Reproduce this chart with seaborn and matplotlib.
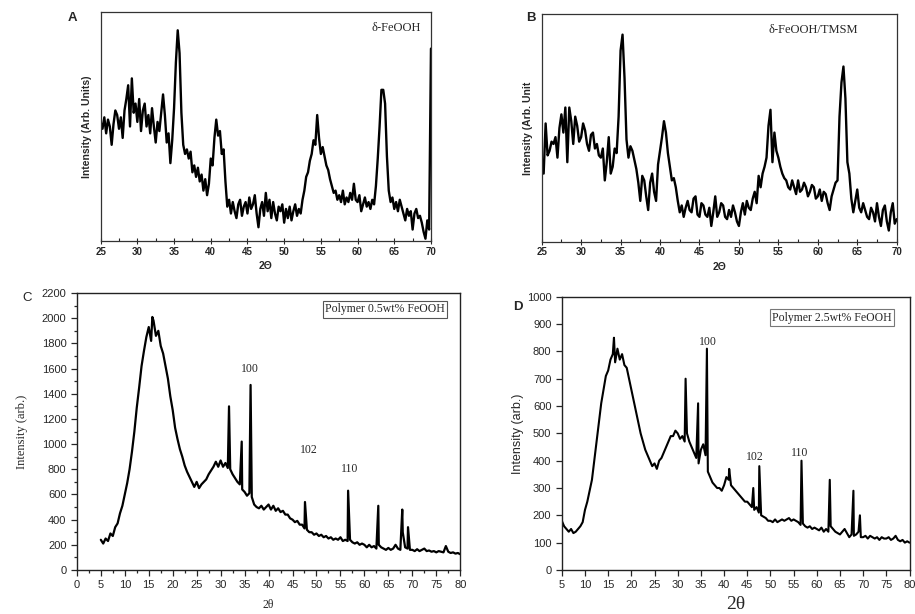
import matplotlib
matplotlib.use("Agg")
import matplotlib.pyplot as plt
import numpy as np
import pandas as pd
import seaborn as sns
from matplotlib.ticker import MultipleLocator

# ---- panel A: delta-FeOOH, 25..70 deg, step 0.25 (arb. units 0-100)
a_int = [
    52, 49, 54, 47, 53, 50, 42, 51, 57, 55, 49, 54, 45, 57, 62, 68, 50, 71, 56, 60,
    52, 62, 48, 57, 60, 50, 55, 47, 58, 50, 43, 52, 48, 56, 64, 55, 43, 47, 34, 44,
    58, 78, 92, 82, 56, 42, 38, 40, 36, 39, 30, 33, 28, 32, 26, 29, 22, 27, 20, 25,
    36, 33, 45, 53, 46, 48, 38, 40, 26, 15, 18, 12, 17, 13, 10, 16, 18, 11, 15, 17,
    12, 19, 14, 16, 20, 12, 6, 14, 17, 11, 21, 13, 18, 10, 17, 12, 9, 15, 13, 16,
    8, 14, 10, 15, 9, 13, 16, 11, 14, 12, 18, 22, 28, 30, 35, 38, 44, 42, 55, 45,
    38, 41, 37, 33, 31, 27, 24, 21, 22, 18, 20, 17, 22, 16, 19, 17, 21, 18, 25, 18,
    17, 20, 13, 16, 19, 15, 17, 14, 18, 16, 24, 36, 50, 66, 66, 60, 37, 22, 17, 19,
    14, 17, 13, 18, 15, 12, 9, 14, 11, 13, 5, 12, 14, 10, 11, 8, 4, 1, 9, 5,
    84,
]

# ---- panel B: delta-FeOOH/TMSM, 25..70 deg, step 0.25
b_int = [
    35, 30, 52, 38, 40, 44, 43, 46, 37, 50, 56, 48, 59, 35, 59, 53, 43, 55, 51, 44,
    46, 52, 49, 43, 40, 47, 48, 41, 43, 38, 37, 41, 27, 35, 46, 30, 33, 41, 39, 55,
    84, 91, 72, 45, 37, 42, 40, 36, 32, 26, 18, 29, 27, 20, 14, 26, 30, 22, 18, 34,
    40, 46, 53, 48, 39, 33, 27, 28, 24, 18, 13, 16, 11, 15, 18, 14, 13, 19, 20, 12,
    11, 17, 16, 12, 11, 15, 7, 13, 20, 11, 13, 17, 16, 11, 10, 14, 11, 16, 13, 9,
    7, 13, 17, 12, 18, 15, 14, 19, 22, 17, 29, 24, 30, 33, 37, 51, 58, 35, 48, 40,
    37, 33, 30, 28, 27, 24, 23, 27, 24, 21, 27, 22, 23, 26, 24, 20, 22, 25, 24, 19,
    20, 23, 18, 22, 21, 17, 14, 20, 23, 26, 27, 55, 70, 77, 63, 35, 30, 19, 13, 18,
    23, 15, 13, 17, 14, 11, 10, 15, 13, 9, 17, 11, 7, 14, 16, 9, 5, 13, 17, 8,
    10,
]

# ---- panel C: polymer 0.5 wt% FeOOH, 5..80 deg, step 0.5
c_int = [
    240, 210, 250, 230, 290, 270, 340, 370, 450, 510,
    600, 690, 800, 940, 1100, 1290, 1450, 1620, 1740, 1850,
    1930, 1820, 1980, 1860, 1900, 1780, 1720, 1620, 1520, 1380,
    1270, 1130, 1040, 960, 900, 830, 780, 740, 700, 660,
    700, 650, 680, 700, 720, 760, 790, 820, 860, 820,
    870, 820, 850, 810, 800, 760, 730, 700, 680, 640,
    620, 590, 610, 580, 520, 500, 490, 510, 480, 500,
    520, 480, 510, 470, 490, 460, 470, 440, 440, 410,
    400, 380, 390, 360, 360, 330, 320, 300, 300, 280,
    290, 270, 280, 260, 270, 250, 260, 240, 250, 240,
    260, 230, 240, 230, 240, 220, 210, 220, 200, 210,
    200, 180, 200, 180, 190, 170, 200, 180, 170, 160,
    175, 160, 170, 200, 170, 160, 300, 180, 170, 160,
    160, 150, 165, 150, 160, 170, 150, 155, 145, 150,
    140, 150, 145, 140, 190, 145, 135, 140, 130, 135,
    125,
]
c_peak_x = [15.75, 31.75, 34.4, 36.25, 47.6, 56.6, 62.9, 67.9, 69.1]
c_peak_y = [2010, 1300, 1020, 1470, 540, 630, 510, 480, 340]

# ---- panel D: polymer 2.5 wt% FeOOH, 5..80 deg, step 0.5
d_int = [
    180, 160, 150, 140, 150, 135, 140, 150, 160, 175,
    220, 250, 290, 330, 400, 470, 540, 610, 660, 710,
    730, 770, 790, 760, 810, 770, 790, 750, 740, 700,
    660, 620, 580, 540, 500, 470, 440, 420, 400, 380,
    390, 370, 400, 410, 430, 450, 470, 490, 490, 510,
    500, 480, 490, 470, 500, 470, 450, 430, 410, 390,
    440, 460, 420, 360, 340, 320, 310, 300, 300, 290,
    310, 340, 330, 310, 300, 290, 280, 270, 260, 250,
    250, 240, 230, 220, 230, 210, 200, 195, 190, 180,
    180, 175, 185, 175, 180, 185, 180, 185, 190, 180,
    185, 180, 175, 165, 170, 160, 155, 160, 150, 155,
    150, 145, 155, 140, 150, 140, 160, 150, 140, 135,
    130, 140, 150, 135, 120, 130, 125, 130, 140, 120,
    120, 125, 115, 125, 120, 115, 120, 110, 120, 115,
    115, 120, 110, 115, 125, 110, 105, 110, 100, 105,
    100,
]
d_peak_x = [16.25, 31.7, 34.4, 36.3, 41.1, 46.3, 47.6, 56.7, 62.8, 67.9, 69.3]
d_peak_y = [850, 700, 610, 810, 370, 300, 380, 400, 330, 290, 200]

c_labels = [("100", 36.2, 1600), ("102", 48.3, 950), ("110", 57.0, 800)]
d_labels = [("100", 36.6, 835), ("102", 46.6, 415), ("110", 56.3, 428)]


def make_df(start, step, values, px=None, py=None):
    x = start + step * np.arange(len(values))
    df = pd.DataFrame({"two_theta": x, "intensity": values})
    if px is not None:
        df = pd.concat([df, pd.DataFrame({"two_theta": px, "intensity": py})])
    return df.sort_values("two_theta")


sns.set_style("ticks")
plt.rcParams["font.family"] = ["Liberation Sans", "DejaVu Sans"]
serif = ["Liberation Serif", "DejaVu Serif"]

fig = plt.figure(figsize=(9.15, 6.14), dpi=100)
ax_a = fig.add_axes([0.110, 0.6075, 0.361, 0.373])
ax_b = fig.add_axes([0.592, 0.606, 0.388, 0.371])
ax_c = fig.add_axes([0.084, 0.0717, 0.419, 0.451])
ax_d = fig.add_axes([0.614, 0.0717, 0.380, 0.445])

# top panels
for ax, vals, title, ylab, tx in [
    (ax_a, a_int, "δ-FeOOH", "Intensity (Arb. Units)", 0.97),
    (ax_b, b_int, "δ-FeOOH/TMSM", "Intensity (Arb. Unit", 0.89),
]:
    df = make_df(25.0, 0.25, vals)
    sns.lineplot(data=df, x="two_theta", y="intensity", ax=ax, color="black",
                 linewidth=1.7, sort=False)
    ax.set_xlim(25, 70)
    ax.set_ylim(0, 100)
    ax.set_yticks([])
    ax.xaxis.set_major_locator(MultipleLocator(5))
    ax.xaxis.set_minor_locator(MultipleLocator(2.5))
    ax.tick_params(axis="x", which="major", direction="inout", length=4, width=0.8,
                   labelsize=7, pad=2)
    ax.tick_params(axis="x", which="minor", direction="in", length=2.5, width=0.8)
    for lab in ax.get_xticklabels():
        lab.set_fontweight("bold")
    ax.set_xlabel("2Θ", fontsize=7.5, fontweight="bold", labelpad=3)
    ax.set_ylabel(ylab, fontsize=7.5, fontweight="bold", labelpad=6)
    ax.text(tx, 0.93, title, transform=ax.transAxes, ha="right", va="center",
            fontsize=9, family=serif)
    for s in ax.spines.values():
        s.set_visible(True)
        s.set_linewidth(0.9)
        s.set_color("#333333")

# bottom panels
df_c = make_df(5.0, 0.5, c_int, c_peak_x, c_peak_y)
sns.lineplot(data=df_c, x="two_theta", y="intensity", ax=ax_c, color="black",
             linewidth=1.6, sort=False)
ax_c.set_xlim(0, 80)
ax_c.set_ylim(0, 2200)
ax_c.xaxis.set_major_locator(MultipleLocator(5))
ax_c.xaxis.set_minor_locator(MultipleLocator(2.5))
ax_c.yaxis.set_major_locator(MultipleLocator(200))
ax_c.yaxis.set_minor_locator(MultipleLocator(100))
ax_c.tick_params(which="major", direction="out", length=4, width=0.9, labelsize=8)
ax_c.tick_params(which="minor", direction="out", length=2.5, width=0.9)
ax_c.set_xlabel("2θ", fontsize=8.5, family=serif, labelpad=6)
ax_c.set_ylabel("Intensity (arb.)", fontsize=9, family=serif, labelpad=10)
ax_c.text(0.96, 0.9625, "Polymer 0.5wt% FeOOH", transform=ax_c.transAxes,
          ha="right", va="top", fontsize=8.5, family=serif,
          bbox=dict(boxstyle="square,pad=0.2", fc="white", ec="#555555", lw=0.8))
for lab, x, y in c_labels:
    ax_c.text(x, y, lab, ha="center", va="center", fontsize=8.5, family=serif)

df_d = make_df(5.0, 0.5, d_int, d_peak_x, d_peak_y)
sns.lineplot(data=df_d, x="two_theta", y="intensity", ax=ax_d, color="black",
             linewidth=1.5, sort=False)
ax_d.set_xlim(5, 80)
ax_d.set_ylim(0, 1000)
ax_d.xaxis.set_major_locator(MultipleLocator(5))
ax_d.yaxis.set_major_locator(MultipleLocator(100))
ax_d.tick_params(which="major", direction="out", length=4, width=0.9, labelsize=8)
ax_d.set_xlabel("2θ", fontsize=14, family=serif, labelpad=4)
ax_d.set_ylabel("Intensity (arb.)", fontsize=9, labelpad=2)
ax_d.text(0.95, 0.945, "Polymer 2.5wt% FeOOH", transform=ax_d.transAxes,
          ha="right", va="top", fontsize=8.5, family=serif,
          bbox=dict(boxstyle="square,pad=0.2", fc="white", ec="#777777", lw=0.8))
for lab, x, y in d_labels:
    ax_d.text(x, y, lab, ha="center", va="center", fontsize=8.5, family=serif)

for ax in (ax_c, ax_d):
    for s in ax.spines.values():
        s.set_visible(True)
        s.set_linewidth(1.0)
        s.set_color("#222222")

# panel letters
fig.text(68 / 915, 1 - 18 / 614, "A", fontsize=9.5, fontweight="bold", ha="left", va="center")
fig.text(526 / 915, 1 - 18 / 614, "B", fontsize=9.5, fontweight="bold", ha="left", va="center")
fig.text(22 / 915, 1 - 298 / 614, "C", fontsize=9.5, ha="left", va="center")
fig.text(513 / 915, 1 - 307 / 614, "D", fontsize=9.5, fontweight="bold", ha="left", va="center")

fig.savefig("out.png", dpi=100)
